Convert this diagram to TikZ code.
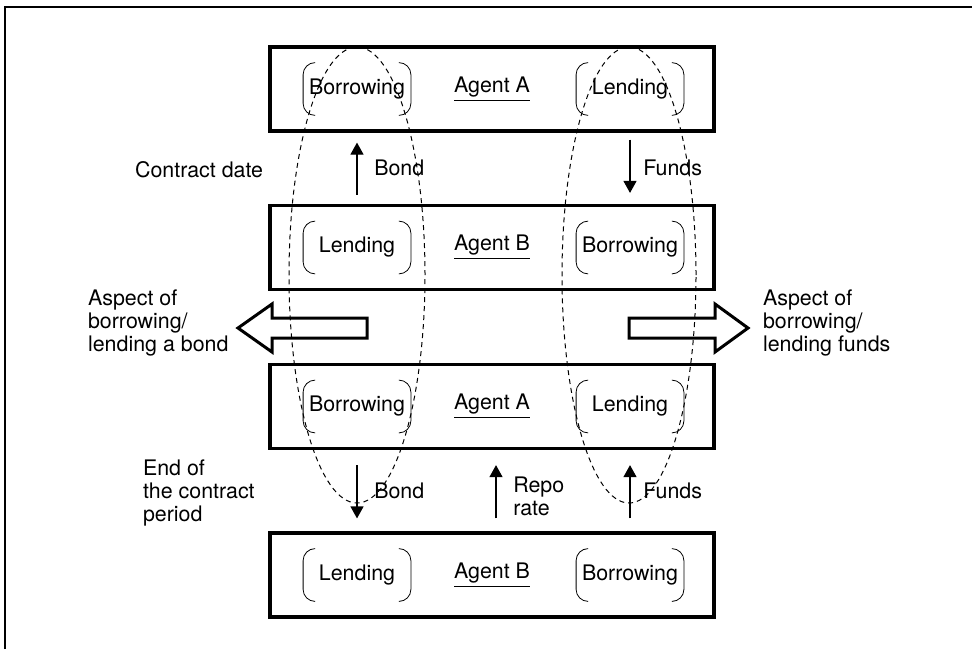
\documentclass[tikz,border=0pt]{standalone}
\usepackage{fontspec}
\setmainfont{TeX Gyre Heros}
\usetikzlibrary{calc,arrows.meta,positioning}

\newcommand{\parens}[1]{%
	\draw[rounded corners=6pt] ([xshift=6pt]#1.north west) -| (#1.south west) -- ([xshift=6pt]#1.south west);
	\draw[rounded corners=6pt] ([xshift=-6pt]#1.north east) -| (#1.south east) -- ([xshift=-6pt]#1.south east);}

\tikzset{
	agent/.style={draw,line width=1.6pt,minimum width=222pt,minimum height=42pt,inner sep=0pt},
	side/.style={minimum width=53.5pt,minimum height=26pt,inner sep=0pt},
	flow/.style={->,line width=0.6pt},
	bigarrow/.style={line width=1.5pt},
	loop/.style={line width=0.5pt,dash pattern=on 2.5pt off 2pt}
}

\begin{document}
\begin{tikzpicture}[x=0.5pt,y=-0.5pt,font=\fontsize{10.7}{11.5}\selectfont,>={Triangle[length=6pt,width=6.5pt]}]
	\useasboundingbox (0,0) rectangle (972,649);
	\draw[line width=0.6pt] (5,649) -- (5,7) -- (972,7);

	% the four agent boxes
	\node[agent] (a1) at (492,89) {\underline{Agent A}};
	\node[agent] (b1) at (492,247.5) {\underline{Agent B}};
	\node[agent] (a2) at (492,406.5) {\underline{Agent A}};
	\node[agent] (b2) at (492,575) {\underline{Agent B}};

	\node[side] (a1bor) at (357,89) {Borrowing};
	\node[side] (a1len) at (630,89) {Lending};
	\node[side] (b1len) at (357,247.5) {Lending};
	\node[side] (b1bor) at (630,247.5) {Borrowing};
	\node[side] (a2bor) at (357,406.5) {Borrowing};
	\node[side] (a2len) at (630,406.5) {Lending};
	\node[side] (b2len) at (357,575) {Lending};
	\node[side] (b2bor) at (630,575) {Borrowing};
	\foreach \n in {a1bor,a1len,b1len,b1bor,a2bor,a2len,b2len,b2bor}
		\parens{\n};

	% flows
	\draw[flow,shorten <=4.5pt,shorten >=5pt] (b1len |- b1.north) -- (b1len |- a1.south) node[midway,right=5pt] {Bond};
	\draw[flow,shorten <=3.5pt,shorten >=5.5pt] (a1len |- a1.south) -- (a1len |- b1.north) node[midway,right=3pt] {Funds};
	\draw[flow,shorten <=7.5pt,shorten >=6.5pt] (a2bor |- a2.south) -- (a2bor |- b2.north) node[midway,right=5pt] {Bond};
	\draw[flow,shorten <=6.5pt,shorten >=7.5pt] ([xshift=2pt]b2.north) -- ([xshift=2pt]a2.south) node[midway,right=5pt,yshift=-3pt,align=left] {Repo\\rate};
	\draw[flow,shorten <=6.5pt,shorten >=7.5pt] (b2bor |- b2.north) -- (b2bor |- a2.south) node[midway,right=3pt] {Funds};

	\node[anchor=west] (cd) at (128,170) {Contract date};
	\node[anchor=west,align=left] (ep) at (136,493) {End of\\the contract\\period};

	% aspects
	\draw[bigarrow] (367,318) -- (272,318) -- (272,304) -- (238,328) -- (272,352) -- (272,338) -- (367,338) -- cycle;
	\draw[bigarrow] (629,318) -- (715,318) -- (715,304) -- (748,328) -- (715,352) -- (715,338) -- (629,338) -- cycle;
	\node[anchor=west,align=left] (asb) at (81,323) {Aspect of\\borrowing/\\lending a bond};
	\node[anchor=west,align=left] (asf) at (756,323) {Aspect of\\borrowing/\\lending funds};

	\draw[loop] (357,275) ellipse [x radius=34pt,y radius=114pt];
	\draw[loop] (629,275) ellipse [x radius=33.5pt,y radius=114pt];
\end{tikzpicture}
\end{document}
